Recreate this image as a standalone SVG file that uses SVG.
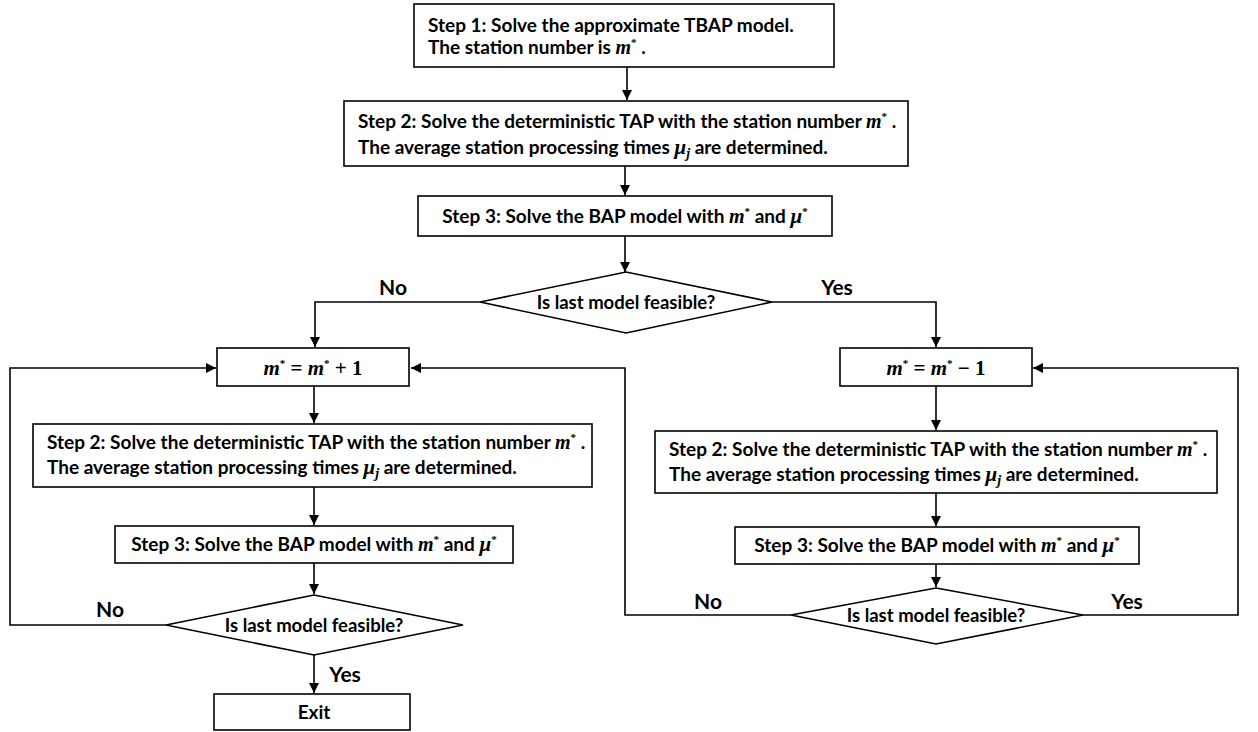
<svg xmlns="http://www.w3.org/2000/svg" width="1258" height="732" viewBox="0 0 1258 732">
<defs>
<marker id="ah" viewBox="0 0 10 10" refX="10" refY="5" markerWidth="10" markerHeight="10" markerUnits="userSpaceOnUse" orient="auto">
<path d="M0,0 L10,5 L0,10 z" fill="#000"/>
</marker>
<style>
.box{fill:#fff;stroke:#000;stroke-width:1.6}
.t{font-family:Lato,"Open Sans",sans-serif;font-weight:bold;font-size:19px;fill:#000}
.d{font-family:Lato,"Open Sans",sans-serif;font-weight:bold;font-size:18.5px;fill:#000}
.lbl{font-family:Lato,"Open Sans",sans-serif;font-weight:bold;font-size:21px;fill:#000}
.m{font-family:"Liberation Serif",serif;font-style:italic;font-weight:bold}
.mr{font-family:"Liberation Serif",serif;font-weight:bold}
.c{fill:none;stroke:#000;stroke-width:1.6}
</style>
</defs>
<rect width="1258" height="732" fill="#fff"/>
<g id="connectors">
<path class="c" d="M627,67 V100" marker-end="url(#ah)"/>
<path class="c" d="M625,166 V195" marker-end="url(#ah)"/>
<path class="c" d="M625,236 V272" marker-end="url(#ah)"/>
<path class="c" d="M480,302 H315 V347" marker-end="url(#ah)"/>
<path class="c" d="M772,302 H936 V347" marker-end="url(#ah)"/>
<path class="c" d="M314,386 V423" marker-end="url(#ah)"/>
<path class="c" d="M314,487 V525" marker-end="url(#ah)"/>
<path class="c" d="M314,563 V594" marker-end="url(#ah)"/>
<path class="c" d="M314,655 V693" marker-end="url(#ah)"/>
<path class="c" d="M166,625 H10 V368 H216" marker-end="url(#ah)"/>
<path class="c" d="M936,386 V430" marker-end="url(#ah)"/>
<path class="c" d="M936,493 V526" marker-end="url(#ah)"/>
<path class="c" d="M936,564 V587" marker-end="url(#ah)"/>
<path class="c" d="M791,615 H625 V368 H411" marker-end="url(#ah)"/>
<path class="c" d="M1083,615 H1238 V368 H1033" marker-end="url(#ah)"/>
<text class="lbl" x="393" y="295" text-anchor="middle">No</text>
<text class="lbl" x="837" y="295" text-anchor="middle">Yes</text>
<text class="lbl" x="110" y="617" text-anchor="middle">No</text>
<text class="lbl" x="345" y="682" text-anchor="middle">Yes</text>
<text class="lbl" x="708" y="609" text-anchor="middle">No</text>
<text class="lbl" x="1127" y="609" text-anchor="middle">Yes</text>
</g>
<g id="step1">
<rect class="box" x="414" y="4" width="420" height="63"/>
<text class="t" x="428" y="32">Step 1: Solve the approximate TBAP model.</text>
<text class="t" x="428" y="54">The station number is <tspan class="m" font-size="20">m</tspan><tspan class="mr" font-size="11" dy="-8">*</tspan><tspan dy="8"> .</tspan></text>
</g>
<g id="step2">
<rect class="box" x="344" y="101" width="564" height="65"/>
<text class="t" x="358" y="128">Step 2: Solve the deterministic TAP with the station number <tspan class="m" font-size="20">m</tspan><tspan class="mr" font-size="11" dy="-8">*</tspan><tspan dy="8"> .</tspan></text>
<text class="t" x="358" y="154">The average station processing times <tspan class="m" font-size="21">μ</tspan><tspan class="m" font-size="14" dy="4">j</tspan><tspan dy="-4"> are determined.</tspan></text>
</g>
<g id="step3">
<rect class="box" x="418" y="196" width="414" height="40"/>
<text class="t" x="625" y="223" text-anchor="middle">Step 3: Solve the BAP model with <tspan class="m" font-size="20">m</tspan><tspan class="mr" font-size="11" dy="-8">*</tspan><tspan dy="8"> and </tspan><tspan class="m" font-size="21">μ</tspan><tspan class="mr" font-size="11" dy="-8">*</tspan></text>
</g>
<g id="decision1">
<polygon class="box" points="626,272 772,302 626,333 480,302"/>
<text class="d" x="626" y="309" text-anchor="middle">Is last model feasible?</text>
</g>
<g id="inc">
<rect class="box" x="217" y="348" width="192" height="38"/>
<text x="313" y="375" text-anchor="middle" font-size="21"><tspan class="m">m</tspan><tspan class="mr" font-size="11" dy="-8">*</tspan><tspan class="mr" dy="8"> = </tspan><tspan class="m">m</tspan><tspan class="mr" font-size="11" dy="-8">*</tspan><tspan class="mr" dy="8"> + 1</tspan></text>
</g>
<g id="dec">
<rect class="box" x="840" y="348" width="192" height="38"/>
<text x="936" y="375" text-anchor="middle" font-size="21"><tspan class="m">m</tspan><tspan class="mr" font-size="11" dy="-8">*</tspan><tspan class="mr" dy="8"> = </tspan><tspan class="m">m</tspan><tspan class="mr" font-size="11" dy="-8">*</tspan><tspan class="mr" dy="8"> − 1</tspan></text>
</g>
<g id="step2-left">
<rect class="box" x="33" y="424" width="559" height="63"/>
<text class="t" x="47" y="449">Step 2: Solve the deterministic TAP with the station number <tspan class="m" font-size="20">m</tspan><tspan class="mr" font-size="11" dy="-8">*</tspan><tspan dy="8"> .</tspan></text>
<text class="t" x="47" y="474">The average station processing times <tspan class="m" font-size="21">μ</tspan><tspan class="m" font-size="14" dy="4">j</tspan><tspan dy="-4"> are determined.</tspan></text>
</g>
<g id="step3-left">
<rect class="box" x="115" y="526" width="398" height="37"/>
<text class="t" x="314" y="551" text-anchor="middle">Step 3: Solve the BAP model with <tspan class="m" font-size="20">m</tspan><tspan class="mr" font-size="11" dy="-8">*</tspan><tspan dy="8"> and </tspan><tspan class="m" font-size="21">μ</tspan><tspan class="mr" font-size="11" dy="-8">*</tspan></text>
</g>
<g id="decision-left">
<polygon class="box" points="314,595 463,625 314,655 166,625"/>
<text class="d" x="314" y="632" text-anchor="middle">Is last model feasible?</text>
</g>
<g id="exit">
<rect class="box" x="214" y="694" width="196" height="36"/>
<text class="t" x="314" y="719" text-anchor="middle">Exit</text>
</g>
<g id="step2-right">
<rect class="box" x="655" y="431" width="562" height="62"/>
<text class="t" x="669" y="456">Step 2: Solve the deterministic TAP with the station number <tspan class="m" font-size="20">m</tspan><tspan class="mr" font-size="11" dy="-8">*</tspan><tspan dy="8"> .</tspan></text>
<text class="t" x="669" y="481">The average station processing times <tspan class="m" font-size="21">μ</tspan><tspan class="m" font-size="14" dy="4">j</tspan><tspan dy="-4"> are determined.</tspan></text>
</g>
<g id="step3-right">
<rect class="box" x="735" y="527" width="404" height="37"/>
<text class="t" x="937" y="552" text-anchor="middle">Step 3: Solve the BAP model with <tspan class="m" font-size="20">m</tspan><tspan class="mr" font-size="11" dy="-8">*</tspan><tspan dy="8"> and </tspan><tspan class="m" font-size="21">μ</tspan><tspan class="mr" font-size="11" dy="-8">*</tspan></text>
</g>
<g id="decision-right">
<polygon class="box" points="936,588 1083,615 936,644 791,615"/>
<text class="d" x="936" y="622" text-anchor="middle">Is last model feasible?</text>
</g>
</svg>
